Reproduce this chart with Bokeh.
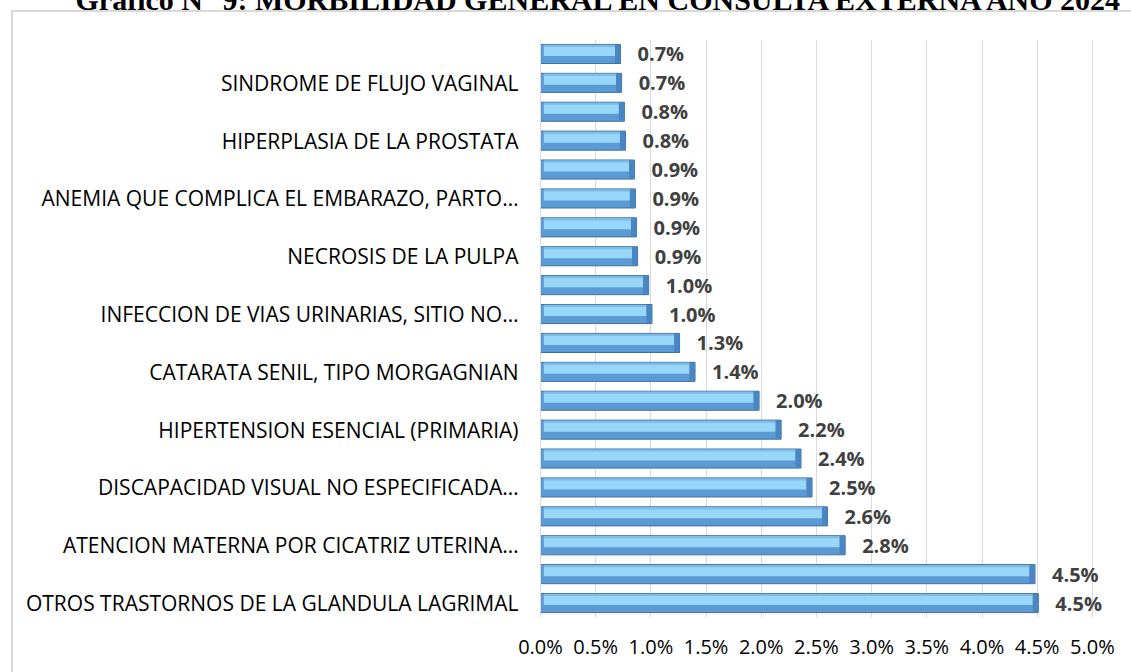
from bokeh.plotting import figure
from bokeh.models import (Range1d, FixedTicker, PrintfTickFormatter, ColumnDataSource)
from bokeh.core.properties import value
from bokeh.embed import file_html
from bokeh.resources import INLINE

# Categories from bottom to top (unlabeled rows are hidden by the chart's label skipping)
categories = [
    "OTROS TRASTORNOS DE LA GLANDULA LAGRIMAL", "",
    "ATENCION MATERNA POR CICATRIZ UTERINA…", "",
    "DISCAPACIDAD VISUAL NO ESPECIFICADA…", "",
    "HIPERTENSION ESENCIAL (PRIMARIA)", "",
    "CATARATA SENIL, TIPO MORGAGNIAN", "",
    "INFECCION DE VIAS URINARIAS, SITIO NO…", "",
    "NECROSIS DE LA PULPA", "",
    "ANEMIA QUE COMPLICA EL EMBARAZO, PARTO…", "",
    "HIPERPLASIA DE LA PROSTATA", "",
    "SINDROME DE FLUJO VAGINAL", "",
]
values = [4.51, 4.48, 2.76, 2.60, 2.46, 2.36, 2.18, 1.98, 1.40, 1.26,
          1.01, 0.98, 0.88, 0.87, 0.86, 0.852, 0.77, 0.76, 0.735, 0.725]
x_ticks = [0.0, 0.5, 1.0, 1.5, 2.0, 2.5, 3.0, 3.5, 4.0, 4.5, 5.0]
title_text = "Gráfico N° 9: MORBILIDAD GENERAL EN CONSULTA EXTERNA AÑO 2024"

FONT = "Open Sans"
bevel = 0.05
ys = list(range(len(values)))
src = ColumnDataSource(dict(
    y=ys,
    v=values,
    v_in=[v - bevel for v in values],
    y_hi=[y + 0.11 for y in ys],
    y_top=[y + 0.28 for y in ys],
    lab=[f"{v:.1f}%" for v in values],
))

K = 55  # canvas extends K px above the visible page so the caption is cut like the source
p = figure(width=1131, height=672 + K, output_backend="svg", toolbar_location=None,
           x_range=Range1d(0, 5.3), y_range=Range1d(-0.5, len(values) - 0.5),
           min_border_left=540, min_border_right=6, min_border_top=39 + K,
           min_border_bottom=55)
p.outline_line_color = None
# transparent canvas so the chart-area border (drawn as CSS lines) shows through
p.background_fill_color = None
p.border_fill_color = None
p.styles = {
    "margin-top": f"-{K}px",
    "background-color": "white",
    "background-image": "linear-gradient(#d9d9d9, #d9d9d9), linear-gradient(#d9d9d9, #d9d9d9)",
    "background-position": f"11px {10 + K}px, 11px {10 + K}px",
    "background-size": "2px 100%, 100% 2px",
    "background-repeat": "no-repeat",
}

# document caption (only its lower edge is visible in the source)
p.title.text = title_text
p.title.text_font = "Liberation Serif"
p.title.text_font_style = "bold"
p.title.text_font_size = "30px"
p.title.text_color = "#000000"
p.title.align = "left"
p.title.offset = 75 - 540
p.title.standoff = 47

# bars: base, light upper band, thin top edge, darker right bevel
p.hbar(y="y", left=0, right="v", height=0.66, source=src,
       fill_color="#5b9bd5", line_color="#41719c", line_width=1)
p.hbar(y="y_hi", left=0.03, right="v_in", height=0.36, source=src,
       fill_color="#99d7fa", line_color=None)
p.hbar(y="y_top", left=0.03, right="v_in", height=0.08, source=src,
       fill_color="#7dbbe8", line_color=None)
p.hbar(y="y", left="v_in", right="v", height=0.62, source=src,
       fill_color="#4a86c2", line_color=None)

p.text(x="v", y="y", text="lab", source=src, x_offset=17,
       text_baseline="middle", text_align="left",
       text_font=value(FONT), text_font_size="20px", text_font_style="bold",
       text_color="#404040")

# axes
p.xaxis.ticker = FixedTicker(ticks=x_ticks)
p.xaxis.formatter = PrintfTickFormatter(format="%.1f%%")
p.xaxis.axis_line_color = None
p.xaxis.major_tick_line_color = None
p.xaxis.minor_tick_line_color = None
p.xaxis.major_label_text_font = FONT
p.xaxis.major_label_text_font_size = "20px"
p.xaxis.major_label_text_color = "#000000"
p.xaxis.major_label_standoff = 9

lab_ticks = [i for i, c in enumerate(categories) if c]
p.yaxis.ticker = FixedTicker(ticks=lab_ticks)
p.yaxis.major_label_overrides = {i: categories[i] for i in lab_ticks}
p.yaxis.axis_line_color = "#d9d9d9"
p.yaxis.axis_line_width = 1
p.yaxis.major_tick_line_color = None
p.yaxis.minor_tick_line_color = None
p.yaxis.major_label_text_font = FONT
p.yaxis.major_label_text_font_size = "21px"
p.yaxis.major_label_text_color = "#000000"
p.yaxis.major_label_standoff = 16

p.xgrid.grid_line_color = "#d9d9d9"
p.ygrid.grid_line_color = None

open("out.html", "w").write(file_html(p, INLINE))
